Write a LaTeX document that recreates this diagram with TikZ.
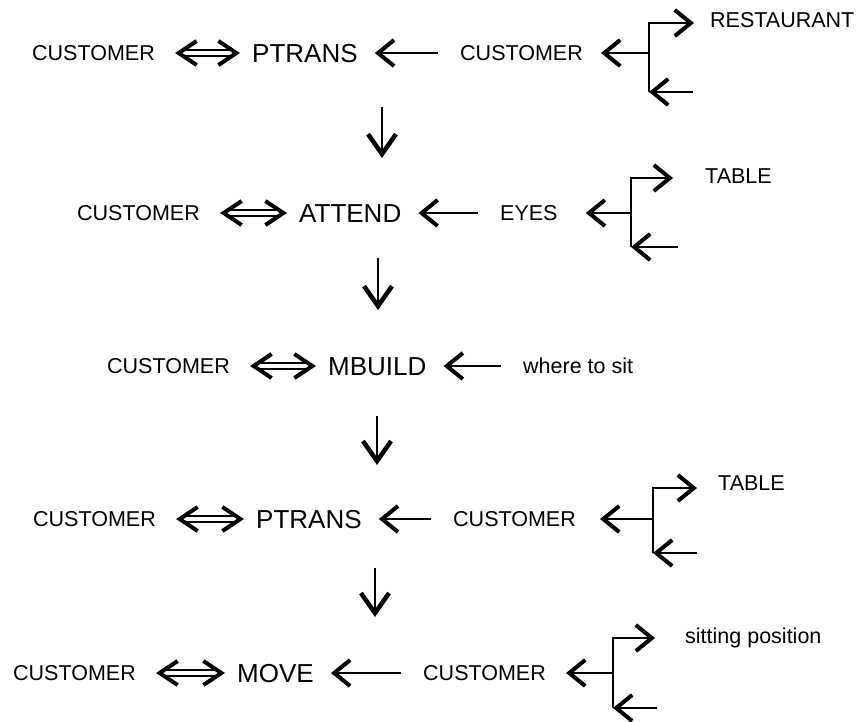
\documentclass[tikz,border=0pt]{standalone}
\usepackage{fontspec}
\setmainfont{Liberation Sans}
\usetikzlibrary{arrows.meta}

\begin{document}
\begin{tikzpicture}[
  x=1pt, y=-1pt,
  >={Straight Barb[length=16pt,width=26pt,line width=4pt]},
  word/.style={anchor=west, inner sep=0pt, text height=15.4pt, text depth=0pt, font=\fontsize{21.5}{24}\selectfont},
  act/.style={anchor=west, inner sep=0pt, text height=18.6pt, text depth=0pt, font=\fontsize{26}{30}\selectfont},
  link/.style={->, line width=2pt},
  back/.style={link, shorten >=17pt, shorten <=22pt},
  both/.style={line width=1.5pt, double=white, double distance=4.5pt,
    {Straight Barb[length=18pt,width=24pt,line width=4pt]}-{Straight Barb[length=18pt,width=24pt,line width=4pt]},
    shorten <=20pt, shorten >=12pt}
]
\useasboundingbox (0,0) rectangle (862,721);

% row 1
\node[word] (c1) at (32,53) {CUSTOMER};
\node[act] (p1) at (252,53) {PTRANS};
\node[word] (a1) at (460,53) {CUSTOMER};
\node[word] (r1) at (710,20) {RESTAURANT};
\coordinate (s1t) at (649,23);
\coordinate (s1m) at (649,53);
\coordinate (s1b) at (649,92);
\coordinate (s1e) at (693,92);
\draw[both] (c1.east) -- (p1.west);
\draw[back] (a1.west) -- (p1.east);
\draw[link, shorten >=18pt] (s1m) -- (a1.east);
\draw[link, shorten >=16pt] (s1b) -- (s1t) -- (s1t -| r1.west);
\draw[link] (s1e) -- (s1b);

% row 2
\node[word] (c2) at (77,213) {CUSTOMER};
\node[act] (p2) at (299,213) {ATTEND};
\node[word] (a2) at (500,213) {EYES};
\node[word] (r2) at (705,176) {TABLE};
\coordinate (s2t) at (631,178);
\coordinate (s2m) at (631,213);
\coordinate (s2b) at (631,247);
\coordinate (s2e) at (678,247);
\draw[both] (c2.east) -- (p2.west);
\draw[back] (a2.west) -- (p2.east);
\draw[link, shorten >=28pt] (s2m) -- (a2.east);
\draw[link, shorten >=32pt] (s2b) -- (s2t) -- (s2t -| r2.west);
\draw[link] (s2e) -- (s2b);

% row 3
\node[word] (c3) at (107,366) {CUSTOMER};
\node[act] (p3) at (328,366) {MBUILD};
\node[word] (a3) at (523,366) {where to sit};
\draw[both] (c3.east) -- (p3.west);
\draw[back] (a3.west) -- (p3.east);

% row 4
\node[word] (c4) at (33,519) {CUSTOMER};
\node[act] (p4) at (256,519) {PTRANS};
\node[word] (a4) at (453,519) {CUSTOMER};
\node[word] (r4) at (718,483) {TABLE};
\coordinate (s4t) at (653,488);
\coordinate (s4m) at (653,519);
\coordinate (s4b) at (653,553);
\coordinate (s4e) at (697,553);
\draw[both] (c4.east) -- (p4.west);
\draw[back] (a4.west) -- (p4.east);
\draw[link, shorten >=24pt] (s4m) -- (a4.east);
\draw[link, shorten >=21pt] (s4b) -- (s4t) -- (s4t -| r4.west);
\draw[link] (s4e) -- (s4b);

% row 5
\node[word] (c5) at (13,673) {CUSTOMER};
\node[act] (p5) at (237,673) {MOVE};
\node[word] (a5) at (423,673) {CUSTOMER};
\node[word] (r5) at (685,636) {sitting position};
\coordinate (s5t) at (613,638);
\coordinate (s5m) at (613,673);
\coordinate (s5b) at (613,708);
\coordinate (s5e) at (657,708);
\draw[both] (c5.east) -- (p5.west);
\draw[back] (a5.west) -- (p5.east);
\draw[link, shorten >=20pt] (s5m) -- (a5.east);
\draw[link, shorten >=30pt] (s5b) -- (s5t) -- (s5t -| r5.west);
\draw[link] (s5e) -- (s5b);

% steps down
\coordinate (d1a) at (382,107);
\coordinate (d1b) at (382,158);
\coordinate (d2a) at (378,258);
\coordinate (d2b) at (378,310);
\coordinate (d3a) at (377,416);
\coordinate (d3b) at (377,465);
\coordinate (d4a) at (375,568);
\coordinate (d4b) at (375,617);
\foreach \i in {1,...,4}
  \draw[link, >={Straight Barb[length=20pt,width=28pt,line width=4.5pt]}] (d\i a) -- (d\i b);
\end{tikzpicture}
\end{document}
